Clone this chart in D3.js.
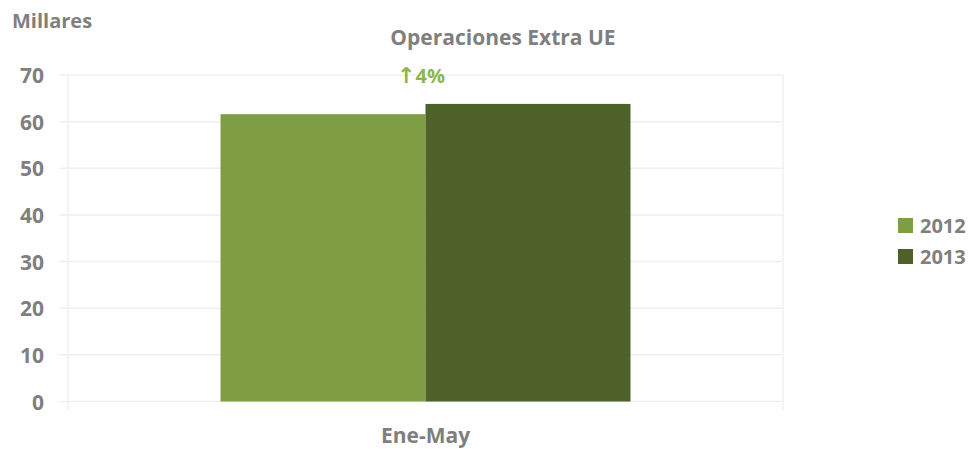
<!DOCTYPE html>
<html>
<head>
<meta charset="utf-8">
<script src="https://cdn.jsdelivr.net/npm/d3@7"></script>
<style>
  body { margin: 0; background: #fff; }
  text { font-family: "Open Sans", "Noto Sans", sans-serif; font-weight: bold; fill: #7f7f7f; }
</style>
</head>
<body>
<script>
// data (thousands)
var categories = ["Ene-May"];
var series = ["2012", "2013"];
var values2012 = [61.6];
var values2013 = [63.8];
var yTicks = [0, 10, 20, 30, 40, 50, 60, 70];
var changeLabel = "4%";

var colors = {"2012": "#7f9e44", "2013": "#4d6128"};

var W = 975, H = 449;
var plot = {left: 68, right: 783, top: 75, bottom: 401.5};

var svg = d3.select("body").append("svg")
  .attr("width", W)
  .attr("height", H);

// scales
var x0 = d3.scaleBand().domain(categories).range([plot.left, plot.right]).paddingInner(0).paddingOuter(0.372);
var x1 = d3.scaleBand().domain(series).range([0, x0.bandwidth()]);
var y = d3.scaleLinear().domain([0, 70]).range([plot.bottom, plot.top]);

// gridlines
svg.append("g")
  .selectAll("line")
  .data(yTicks)
  .enter().append("line")
  .attr("x1", plot.left - 9)
  .attr("x2", plot.right)
  .attr("y1", function(d) { return y(d); })
  .attr("y2", function(d) { return y(d); })
  .attr("stroke", "#efefef")
  .attr("stroke-width", 1.5);

// faint vertical frame lines
[plot.left, plot.right].forEach(function(xx) {
  svg.append("line")
    .attr("x1", xx).attr("x2", xx)
    .attr("y1", plot.top).attr("y2", plot.bottom + 9)
    .attr("stroke", "#f1f1f1")
    .attr("stroke-width", 1.5);
});

// y axis labels
var yAxis = d3.axisLeft(y).tickValues(yTicks).tickSize(0).tickPadding(0);
var gy = svg.append("g")
  .attr("transform", "translate(" + 44 + ",0)")
  .call(yAxis);
gy.select(".domain").remove();
gy.selectAll("text")
  .style("font-size", "21px")
  .style("font-family", "\"Open Sans\", sans-serif")
  .attr("fill", "#7f7f7f")
  .attr("dy", "0.36em");

// bars
var data = categories.map(function(c, i) {
  return {cat: c, vals: [{s: "2012", v: values2012[i]}, {s: "2013", v: values2013[i]}]};
});

var groups = svg.selectAll(".grp")
  .data(data)
  .enter().append("g")
  .attr("class", "grp")
  .attr("transform", function(d) { return "translate(" + x0(d.cat) + ",0)"; });

groups.selectAll("rect")
  .data(function(d) { return d.vals; })
  .enter().append("rect")
  .attr("x", function(d) { return x1(d.s); })
  .attr("width", x1.bandwidth())
  .attr("y", function(d) { return y(d.v); })
  .attr("height", function(d) { return y(0) - y(d.v); })
  .attr("fill", function(d) { return colors[d.s]; });

// x axis label
var xAxis = d3.axisBottom(x0).tickSize(0).tickPadding(0);
var gx = svg.append("g")
  .attr("transform", "translate(0," + 443 + ")")
  .call(xAxis);
gx.select(".domain").remove();
gx.selectAll("text")
  .style("font-size", "21px")
  .style("font-family", "\"Open Sans\", sans-serif")
  .attr("fill", "#7f7f7f")
  .attr("dy", "0");

// titles
svg.append("text")
  .attr("x", 12)
  .attr("y", 28)
  .style("font-size", "20px")
  .text("Millares");

svg.append("text")
  .attr("x", 503)
  .attr("y", 45)
  .attr("text-anchor", "middle")
  .style("font-size", "21px")
  .text("Operaciones Extra UE");

var chg = svg.append("text")
  .attr("x", 421)
  .attr("y", 83)
  .attr("text-anchor", "middle")
  .style("font-size", "20px")
  .style("fill", "#8bb84c");
chg.append("tspan")
  .style("font-family", "\"DejaVu Sans\", sans-serif")
  .style("font-weight", "bold")
  .style("font-size", "22px")
  .style("fill", "#8bb84c")
  .text("\u2191");
chg.append("tspan")
  .style("fill", "#8bb84c")
  .text(changeLabel);

// legend
var legend = svg.selectAll(".leg")
  .data(series)
  .enter().append("g")
  .attr("class", "leg")
  .attr("transform", function(d, i) { return "translate(898," + (218 + i * 31) + ")"; });

legend.append("rect")
  .attr("width", 15)
  .attr("height", 15)
  .attr("fill", function(d) { return colors[d]; });

legend.append("text")
  .attr("x", 22)
  .attr("y", 8)
  .attr("dy", "0.36em")
  .style("font-size", "20px")
  .text(function(d) { return d; });
</script>
</body>
</html>
